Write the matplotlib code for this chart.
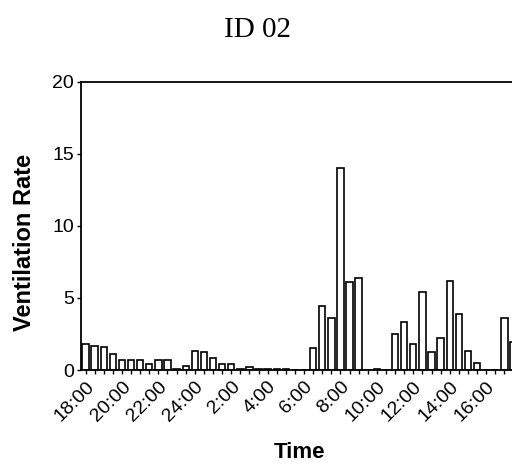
import numpy as np
import matplotlib
matplotlib.use('Agg')
import matplotlib.pyplot as plt

# half-hour bins from 18:00 to 17:30
slots = ['%d:%s' % (((18 + i // 2) % 24) or 24, '00' if i % 2 == 0 else '30') for i in range(48)]
rate = [1.78, 1.69, 1.57, 1.1, 0.72, 0.72, 0.72, 0.4, 0.72, 0.7,
        0.05, 0.28, 1.3, 1.27, 0.8, 0.4, 0.42, 0.1, 0.2, 0.1,
        0.07, 0.05, 0.04, 0.03, 0.0, 1.5, 4.47, 3.59, 14.0, 6.09,
        6.41, 0.0, 0.05, 0.0, 2.5, 3.3, 1.8, 5.44, 1.27, 2.2,
        6.18, 3.86, 1.32, 0.46, 0.0, 0.0, 3.59, 1.97]
tick_labels = ['18:00', '20:00', '22:00', '24:00', '2:00', '4:00', '6:00',
               '8:00', '10:00', '12:00', '14:00', '16:00']

plt.rcParams['font.family'] = ['Liberation Sans', 'DejaVu Sans']

fig = plt.figure(figsize=(5.12, 4.69), dpi=100)
ax = fig.add_axes([81 / 512, 99 / 469, 437 / 512, 288 / 469])

x = np.arange(len(rate))
ax.bar(x, rate, width=0.7, color='white', edgecolor='black', linewidth=1.2)

ax.set_xlim(-0.5, 47.5)
ax.set_ylim(0, 20)
ax.set_yticks([0, 5, 10, 15, 20])
ax.set_xticks(x, minor=True)
ax.set_xticks(x[::4])
ax.set_xticklabels(tick_labels, rotation=45, ha='right', va='top',
                   rotation_mode='anchor', fontsize=14)
ax.tick_params(axis='y', labelsize=14, length=3, width=1, pad=2)
ax.tick_params(axis='x', which='both', length=3, width=1, pad=3)

for s in ax.spines.values():
    s.set_linewidth(1.3)

ax.set_ylabel('Ventilation Rate', fontsize=17, fontweight='bold', va='center')
ax.yaxis.set_label_coords(-56 / 437, 128 / 288)
ax.set_xlabel('Time', fontsize=16, fontweight='bold', va='center')
ax.xaxis.set_label_coords(299 / 437 - 81 / 437, -82 / 288)

fig.text(258 / 512, 1 - 30 / 469, 'ID 02', family='Liberation Serif',
         fontsize=21, ha='center', va='center')

fig.savefig('out.png', dpi=100)
